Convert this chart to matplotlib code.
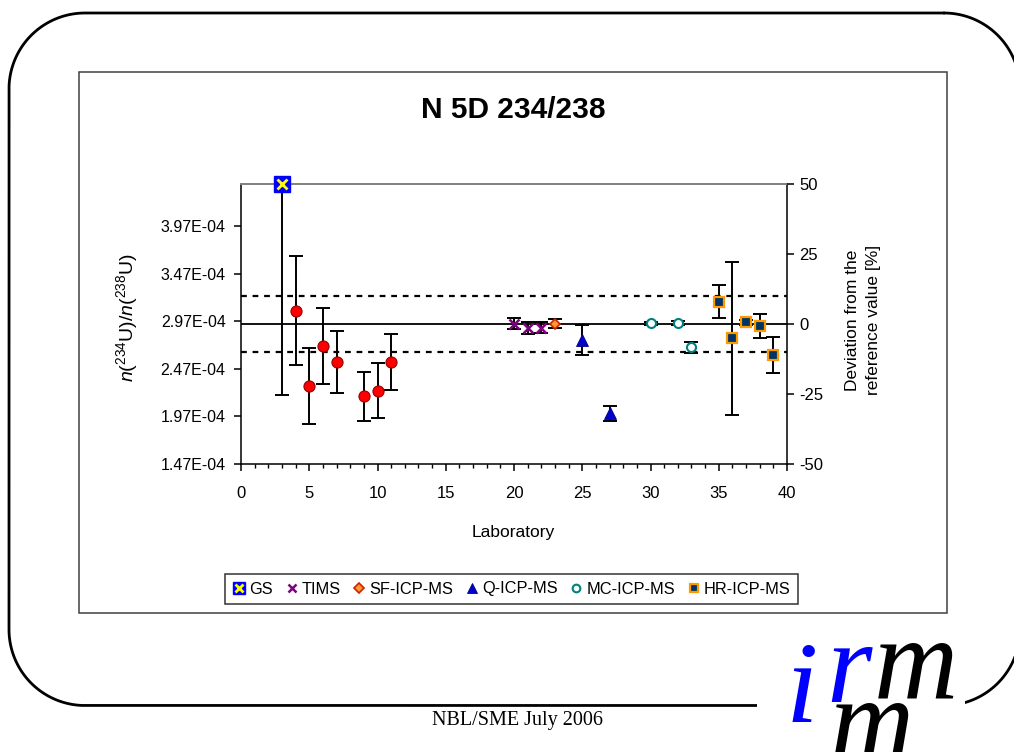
import numpy as np
import matplotlib
matplotlib.use("Agg")
import matplotlib.pyplot as plt
from matplotlib.patches import Rectangle
from matplotlib.ticker import MultipleLocator, FixedLocator, FuncFormatter

plt.rcParams["font.family"] = ["Liberation Sans", "DejaVu Sans"]
plt.rcParams["mathtext.fontset"] = "custom"
plt.rcParams["mathtext.rm"] = "Liberation Sans"
plt.rcParams["mathtext.it"] = "Liberation Sans:italic"
plt.rcParams["axes.unicode_minus"] = False

# ---- data: n(234U)/n(238U) per laboratory, with expanded uncertainties ----
REF_VALUE = 2.94e-4
BAND_PCT = 10

gs_lab = [3]
gs_val = [4.41e-4]
gs_err = [2.22e-4]

other_lab = [4, 5, 6, 7, 9, 10, 11]
other_val = [3.08e-4, 2.29e-4, 2.71e-4, 2.54e-4, 2.18e-4, 2.24e-4, 2.54e-4]
other_err = [0.57e-4, 0.40e-4, 0.40e-4, 0.325e-4, 0.26e-4, 0.29e-4, 0.29e-4]

tims_lab = [20, 21, 22]
tims_val = [2.943e-4, 2.898e-4, 2.901e-4]
tims_err = [0.060e-4, 0.066e-4, 0.056e-4]

sf_lab = [23]
sf_val = [2.943e-4]
sf_err = [0.05e-4]

q_lab = [25, 27]
q_val = [2.772e-4, 2.002e-4]
q_err = [0.154e-4, 0.077e-4]

mc_lab = [30, 32, 33]
mc_val = [2.947e-4, 2.947e-4, 2.695e-4]
mc_err = [0.015e-4, 0.02e-4, 0.058e-4]

hr_lab = [35, 36, 37, 38, 39]
hr_val = [3.174e-4, 2.79e-4, 2.958e-4, 2.922e-4, 2.618e-4]
hr_err = [0.173e-4, 0.805e-4, 0.026e-4, 0.127e-4, 0.189e-4]

left_ticks = [1.47e-4, 1.97e-4, 2.47e-4, 2.97e-4, 3.47e-4, 3.97e-4]
right_ticks = [-50, -25, 0, 25, 50]
x_ticks = [0, 5, 10, 15, 20, 25, 30, 35, 40]

W, H = 1014, 752
fig = plt.figure(figsize=(W / 100, H / 100), dpi=100)
fig.patch.set_facecolor("white")

# ---- slide background: rounded frame, chart box, footer, logo ----
bg = fig.add_axes([0, 0, 1, 1])
bg.set_xlim(0, W)
bg.set_ylim(H, 0)
bg.axis("off")


def rounded_outline(x0, y0, x1, y1, r, n=40):
    """Closed outline of a rectangle with circular corners (y grows downward)."""
    pts = []
    corners = [(x1 - r, y0 + r, -90, 0), (x1 - r, y1 - r, 0, 90),
               (x0 + r, y1 - r, 90, 180), (x0 + r, y0 + r, 180, 270)]
    for cx, cy, a0, a1 in corners:
        t = np.radians(np.linspace(a0, a1, n))
        pts.append(np.column_stack([cx + r * np.cos(t), cy + r * np.sin(t)]))
    pts = np.vstack(pts + [pts[0][:1]])
    return pts[:, 0], pts[:, 1]


fx, fy = rounded_outline(9, 13, 1020, 705.5, 76)
bg.plot(fx, fy, color="black", linewidth=2.0, solid_capstyle="round")
bg.add_patch(Rectangle((79, 72), 947 - 79, 613 - 72, fill=False,
                       edgecolor="#404040", linewidth=1.1))
bg.add_patch(Rectangle((757, 636), 208, 120, facecolor="white",
                       edgecolor="none", zorder=3))
bg.text(517, 720, "NBL/SME July 2006", family="Liberation Serif",
        fontsize=14.5, ha="center", va="center")
logo_kw = dict(family="Liberation Serif", style="italic", fontsize=84,
               va="baseline", ha="left", zorder=4)
bg.text(786, 722, "i", color="#0000FF", **logo_kw)
bg.text(826, 702, "r", color="#0000FF", **logo_kw)
bg.text(874, 697, "m", color="black", **logo_kw)
bg.text(830, 758, "m", color="black", **logo_kw)

# ---- main chart ----
ax = fig.add_axes([241 / W, 1 - 464 / H, (787 - 241) / W, (464 - 184) / H])
ax.set_xlim(0, 40)
ax.set_ylim(REF_VALUE * (1 - 0.5), REF_VALUE * (1 + 0.5))

ax.axhline(REF_VALUE, color="black", linewidth=1.3, zorder=1)
for s in (1, -1):
    ax.axhline(REF_VALUE * (1 + s * BAND_PCT / 100), color="black",
               linewidth=1.6, linestyle=(0, (2.6, 2.6)), zorder=1)

eb_kw = dict(fmt="none", ecolor="black", elinewidth=1.4, capsize=5.2,
             capthick=1.4, zorder=2)
for lab, val, err in [(gs_lab, gs_val, gs_err), (other_lab, other_val, other_err),
                      (tims_lab, tims_val, tims_err), (sf_lab, sf_val, sf_err),
                      (q_lab, q_val, q_err), (mc_lab, mc_val, mc_err),
                      (hr_lab, hr_val, hr_err)]:
    ax.errorbar(lab, val, yerr=err, **eb_kw)

gs_sq = ax.plot(gs_lab, gs_val, "s", ms=11, mfc="#0000FF", mec="#0000FF",
                clip_on=False, zorder=5)[0]
gs_x = ax.plot(gs_lab, gs_val, "x", ms=6.5, mew=2.0, color="#FFFF00",
               clip_on=False, zorder=6)[0]
ax.plot(other_lab, other_val, "o", ms=8, mfc="#FF0000", mec="#990000",
        mew=0.8, zorder=5)
tims = ax.plot(tims_lab, tims_val, "x", ms=7, mew=1.8, color="#800080",
               zorder=5)[0]
sf = ax.plot(sf_lab, sf_val, "D", ms=5.5, mfc="#FF9933", mec="#CC2200",
             mew=1.2, zorder=5)[0]
q = ax.plot(q_lab, q_val, "^", ms=8, mfc="#0000CC", mec="#000080",
            mew=0.6, zorder=5)[0]
mc = ax.plot(mc_lab, mc_val, "o", ms=6.5, mfc="white", mec="#008080",
             mew=1.5, zorder=5)[0]
hr = ax.plot(hr_lab, hr_val, "s", ms=7.5, mfc="#003366", mec="#FF9900",
             mew=1.6, zorder=5)[0]

for side in ("left", "bottom", "right"):
    ax.spines[side].set_color("black")
    ax.spines[side].set_linewidth(1.1)
ax.spines["top"].set_color("#808080")
ax.spines["top"].set_linewidth(1.4)

ax.xaxis.set_major_locator(FixedLocator(x_ticks))
ax.xaxis.set_minor_locator(MultipleLocator(1))
ax.yaxis.set_major_locator(FixedLocator(left_ticks))
ax.yaxis.set_major_formatter(FuncFormatter(lambda v, p: f"{v:.2E}"))
ax.tick_params(axis="x", which="major", direction="out", length=5,
               width=1.1, pad=11, labelsize=12)
ax.tick_params(axis="x", which="minor", direction="out", length=3, width=1.0)
ax.tick_params(axis="y", which="major", direction="out", length=5,
               width=1.1, pad=6, labelsize=11.5)

ax2 = ax.twinx()
ax2.set_ylim(-50, 50)
ax2.yaxis.set_major_locator(FixedLocator(right_ticks))
ax2.tick_params(axis="y", direction="out", length=5, width=1.1, pad=4,
                labelsize=12)
for sp in ax2.spines.values():
    sp.set_visible(False)

# ---- titles and axis captions ----
fig.text(513 / W, 1 - 110 / H, "N 5D 234/238", fontsize=21.5,
         fontweight="bold", ha="center", va="center")
fig.text(513 / W, 1 - 532 / H, "Laboratory", fontsize=12.5,
         ha="center", va="center")
fig.text(127 / W, 1 - 318 / H,
         r"$\mathit{n}$($^{234}$U)/$\mathit{n}$($^{238}$U)",
         fontsize=14, rotation=90, ha="center", va="center")
fig.text(863 / W, 1 - 320 / H, "Deviation from the\nreference value [%]",
         fontsize=12.5, rotation=90, ha="center", va="center",
         multialignment="center", linespacing=1.45)

# ---- legend ----
handles = [(gs_sq, gs_x), tims, sf, q, mc, hr]
labels = ["GS", "TIMS", "SF-ICP-MS", "Q-ICP-MS", "MC-ICP-MS", "HR-ICP-MS"]
leg = fig.legend(handles, labels, ncol=6, loc="center",
                 bbox_to_anchor=(511.5 / W, 1 - 589 / H), frameon=True,
                 fancybox=False, edgecolor="black", fontsize=11.8,
                 handlelength=0.8, handletextpad=0.2, columnspacing=0.75,
                 borderpad=0.45, markerscale=0.85)
leg.get_frame().set_linewidth(1.1)

fig.savefig("out.png", dpi=100, facecolor="white")
